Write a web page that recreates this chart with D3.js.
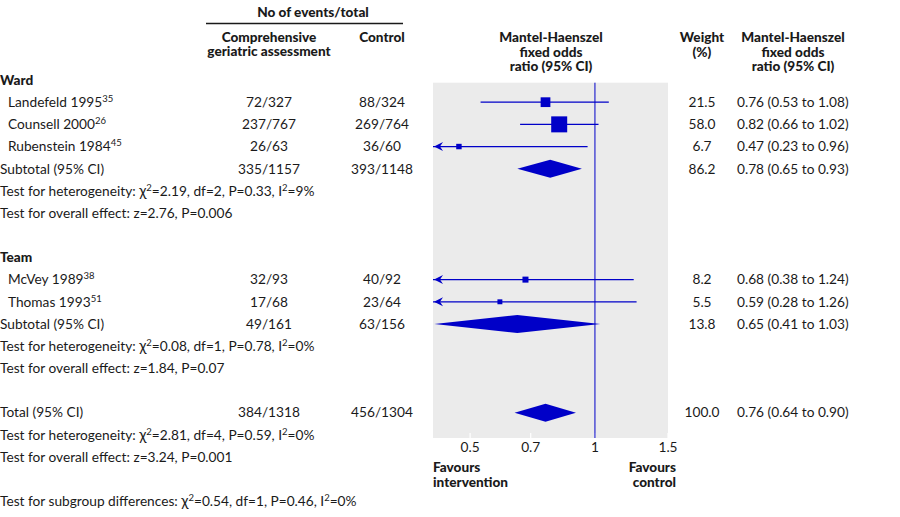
<!DOCTYPE html>
<html><head><meta charset="utf-8">
<script src="https://cdn.jsdelivr.net/npm/d3@7"></script>
<style>
body{margin:0;background:#fff}
svg{display:block}
text{font-family:Lato,"Noto Sans",sans-serif;font-size:13.7px;fill:#1a1a1a}
.b{font-weight:900;font-size:13.6px}
</style></head><body>
<script>
// ---- data ----
const studyNames   = ["Landefeld 1995","Counsell 2000","Rubenstein 1984","McVey 1989","Thomas 1993"];
const studyRefs    = ["35","26","45","38","51"];
const studyGroup   = ["Ward","Ward","Ward","Team","Team"];
const eventsCGA    = ["72/327","237/767","26/63","32/93","17/68"];
const eventsCtrl   = ["88/324","269/764","36/60","40/92","23/64"];
const studyWeight  = [21.5,58.0,6.7,8.2,5.5];
const studyOR      = [0.76,0.82,0.47,0.68,0.59];
const studyLo      = [0.53,0.66,0.23,0.38,0.28];
const studyHi      = [1.08,1.02,0.96,1.24,1.26];

const summaryNames  = ["Subtotal (95% CI)","Subtotal (95% CI)","Total (95% CI)"];
const summaryCGA    = ["335/1157","49/161","384/1318"];
const summaryCtrl   = ["393/1148","63/156","456/1304"];
const summaryWeight = [86.2,13.8,100.0];
const summaryOR     = [0.78,0.65,0.76];
const summaryLo     = [0.65,0.41,0.64];
const summaryHi     = [0.93,1.03,0.90];

const hetChi = ["2.19","0.08","2.81"], hetDf = ["2","1","4"], hetP = ["0.33","0.78","0.59"], hetI2 = ["9%","0%","0%"];
const effZ = ["2.76","1.84","3.24"], effP = ["0.006","0.07","0.001"];
const subgroupTest = {chi:"0.54", df:"1", p:"0.46", i2:"0%"};

const tickValues = [0.5,0.7,1,1.5];
const tickLabels = ["0.5","0.7","1","1.5"];

// ---- layout ----
const W=900,H=517;
const blue="#0000c8";
const svg=d3.select("body").append("svg").attr("width",W).attr("height",H);
const x=d3.scaleLog().domain([0.407,1.5]).range([433,668]);
const y=d3.scaleLinear().domain([0,15]).range([80,412.7]);
const sq=d3.scaleSqrt().domain([0,58]).range([0,16]);
const colCGA=269,colCtrl=382,colW=702,colOR=737;
const fmt=d3.format(".2f"), fmtW=d3.format(".1f");

function txt(xp,yp,s,anchor,cls){
  return svg.append("text").attr("x",xp).attr("y",yp).attr("dy","0.35em")
    .attr("text-anchor",anchor||"start").attr("class",cls||null).text(s);
}
function txt2(xp,yp,lines,anchor,gap){
  const t=svg.append("text").attr("x",xp).attr("y",yp).attr("text-anchor",anchor).attr("class","b");
  lines.forEach((l,i)=>t.append("tspan").attr("x",xp).attr("dy",i===0?"0.35em":gap).text(l));
  return t;
}
txt(313,12,"No of events/total","middle","b");
svg.append("line").attr("x1",206).attr("x2",403).attr("y1",23.5).attr("y2",23.5).attr("stroke","#1a1a1a").attr("stroke-width",1.3);
txt2(colCGA,37,["Comprehensive","geriatric assessment"],"middle",14.5);
txt(colCtrl,37,"Control","middle","b");
[551,793].forEach(cx=>txt2(cx,37.5,["Mantel-Haenszel","fixed odds","ratio (95% CI)"],"middle",14.5));
txt2(colW,37.5,["Weight","(%)"],"middle",14.5);

// panel
const panelTop=82.7,panelBot=438;
svg.append("rect").attr("x",x.range()[0]).attr("y",panelTop).attr("width",x.range()[1]-x.range()[0])
  .attr("height",panelBot-panelTop).attr("fill","#ebebeb");
svg.selectAll(".tk").data(tickValues).join("line")
  .attr("x1",d=>x(d)).attr("x2",d=>x(d)).attr("y1",panelBot-5).attr("y2",panelBot)
  .attr("stroke","#fff").attr("stroke-width",1.2);
svg.selectAll(".tl").data(tickValues).join("text")
  .attr("x",d=>x(d)).attr("y",447).attr("dy","0.35em").attr("text-anchor","middle")
  .text((d,i)=>tickLabels[i]);
svg.append("line").attr("x1",x(1)).attr("x2",x(1)).attr("y1",panelTop).attr("y2",panelBot)
  .attr("stroke",blue).attr("stroke-width",1);

txt2(433,467.5,["Favours","intervention"],"start",15);
txt2(676,467.5,["Favours","control"],"end",15);

function chiLine(row,lead,chi,df,p,i2){
  const t=svg.append("text").attr("x",0).attr("y",y(row)).attr("dy","0.35em");
  t.append("tspan").text(lead);
  t.append("tspan").text("\u03c7").attr("font-size","15px");
  t.append("tspan").text("2").attr("font-size","9.5px").attr("dy","-5");
  t.append("tspan").text("="+chi+", df="+df+", P="+p+", I").attr("dy","5");
  t.append("tspan").text("2").attr("font-size","9.5px").attr("dy","-5");
  t.append("tspan").text("="+i2).attr("dy","5");
  return t;
}
function arrowLeft(xp,yp){
  svg.append("path").attr("d",`M${xp},${yp} L${xp+9},${yp-4.5} L${xp+6},${yp} L${xp+9},${yp+4.5} Z`).attr("fill",blue);
}
function diamond(row,or,lo,hi){
  const yc=y(row),h=9;
  svg.append("path").attr("d",`M${x(lo)},${yc} L${x(or)},${yc-h} L${x(hi)},${yc} L${x(or)},${yc+h} Z`).attr("fill",blue);
}
function summaryRow(gi,row){
  const yc=y(row);
  txt(0,yc,summaryNames[gi]);
  txt(colCGA,yc,summaryCGA[gi],"middle");
  txt(colCtrl,yc,summaryCtrl[gi],"middle");
  txt(colW,yc,fmtW(summaryWeight[gi]),"middle");
  txt(colOR,yc,`${fmt(summaryOR[gi])} (${fmt(summaryLo[gi])} to ${fmt(summaryHi[gi])})`,"start");
  diamond(row,summaryOR[gi],Math.max(summaryLo[gi],dom[0]),Math.min(summaryHi[gi],dom[1]));
  chiLine(row+1,"Test for heterogeneity: ",hetChi[gi],hetDf[gi],hetP[gi],hetI2[gi]);
  txt(0,y(row+2),`Test for overall effect: z=${effZ[gi]}, P=${effP[gi]}`);
}

const groups=["Ward","Team"];
const groupRow=[0,8];
const dom=x.domain();
groups.forEach((g,gi)=>{
  const r0=groupRow[gi];
  txt(0,y(r0),g,"start","b");
  const idx=studyGroup.map((s,i)=>s===g?i:-1).filter(i=>i>=0);
  idx.forEach((si,k)=>{
    const row=r0+1+k, yc=y(row);
    const t=svg.append("text").attr("x",8).attr("y",yc).attr("dy","0.35em");
    t.append("tspan").text(studyNames[si]);
    t.append("tspan").text(studyRefs[si]).attr("font-size","9.5px").attr("dy","-5");
    txt(colCGA,yc,eventsCGA[si],"middle");
    txt(colCtrl,yc,eventsCtrl[si],"middle");
    txt(colW,yc,fmtW(studyWeight[si]),"middle");
    txt(colOR,yc,`${fmt(studyOR[si])} (${fmt(studyLo[si])} to ${fmt(studyHi[si])})`,"start");
    const lo=Math.max(studyLo[si],dom[0]), hi=Math.min(studyHi[si],dom[1]);
    svg.append("line").attr("x1",x(lo)).attr("x2",x(hi)).attr("y1",yc).attr("y2",yc).attr("stroke",blue).attr("stroke-width",1.3);
    if(studyLo[si]<dom[0]) arrowLeft(x(dom[0])+1,yc);
    const s=sq(studyWeight[si]);
    svg.append("rect").attr("x",x(studyOR[si])-s/2).attr("y",yc-s/2).attr("width",s).attr("height",s).attr("fill",blue);
  });
  summaryRow(gi,r0+1+idx.length);
});
summaryRow(2,15);
chiLine(19,"Test for subgroup differences: ",subgroupTest.chi,subgroupTest.df,subgroupTest.p,subgroupTest.i2);
</script></body></html>
